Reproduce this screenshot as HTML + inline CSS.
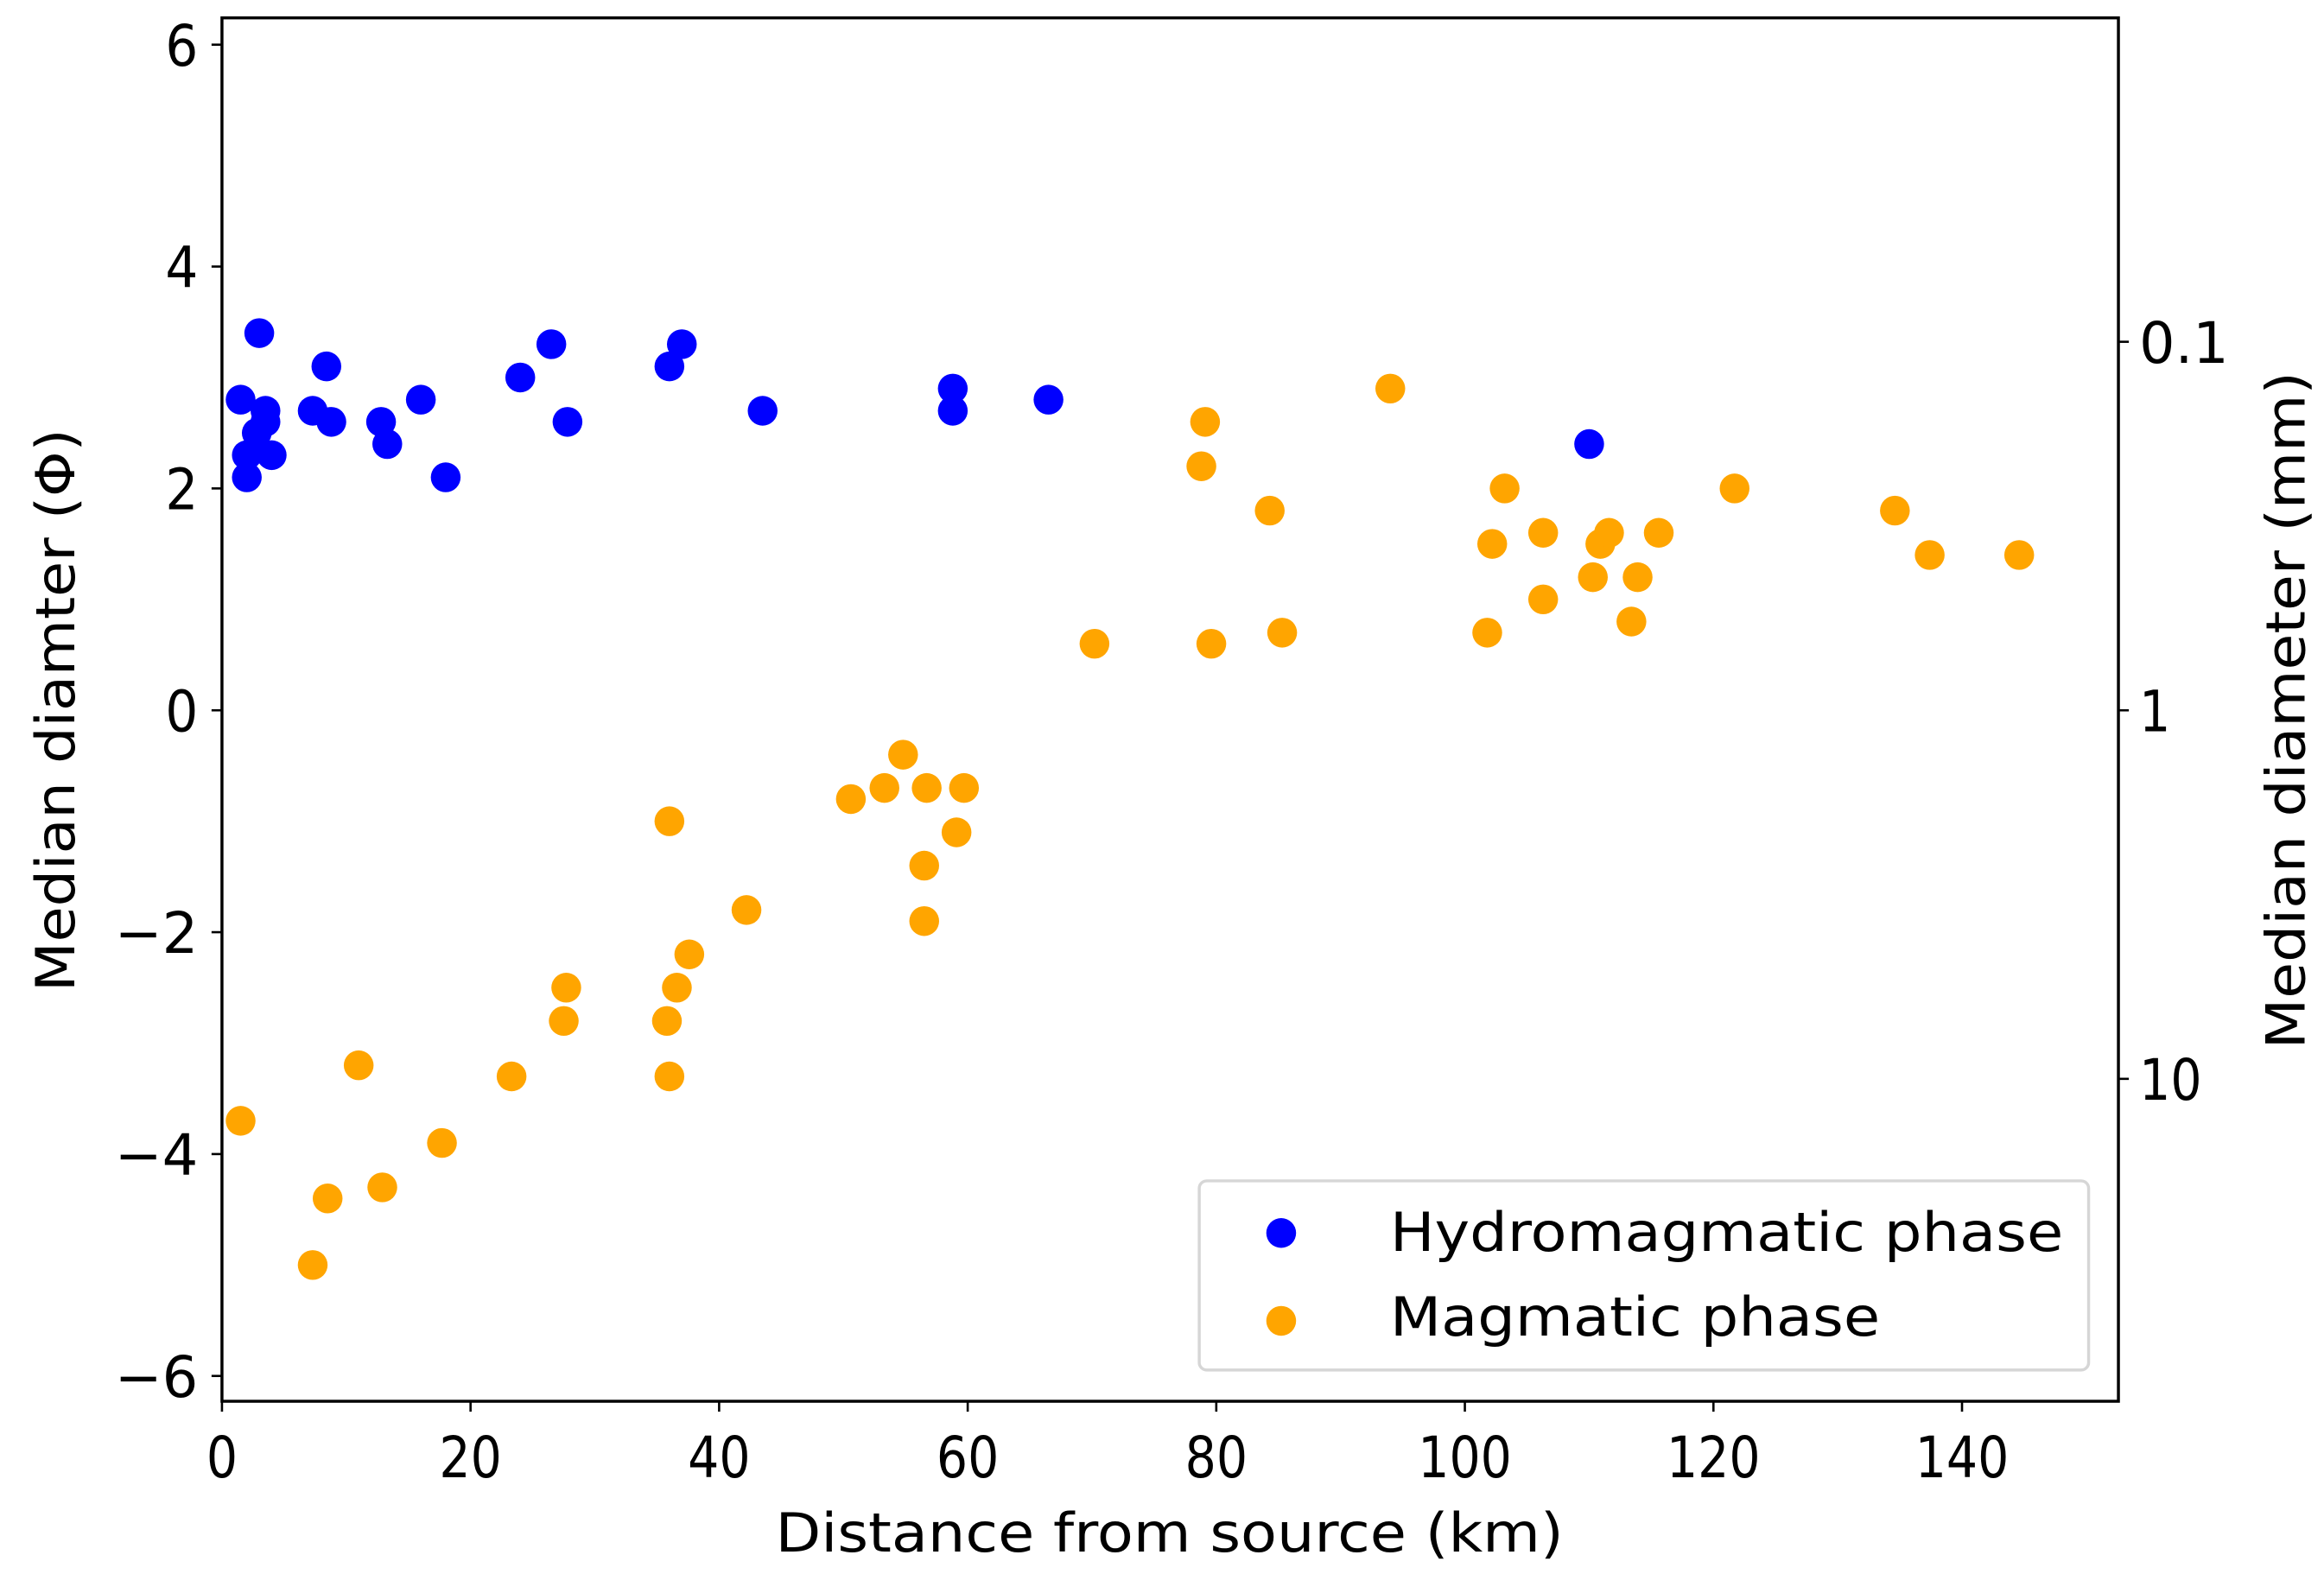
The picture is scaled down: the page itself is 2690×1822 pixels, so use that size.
<!DOCTYPE html>
<html><head><meta charset="utf-8"><style>
html,body{margin:0;padding:0;background:#fff;}
svg{display:block;}
text{font-family:"DejaVu Sans","Liberation Sans",sans-serif;fill:#000;}
</style></head><body>
<svg id="chart" width="2690" height="1822" viewBox="0 0 1560 1057" preserveAspectRatio="none" xmlns="http://www.w3.org/2000/svg">
<rect x="0" y="0" width="1560" height="1057" fill="#fff"/>
<g id="marks"></g>
<rect x="149" y="12" width="1273" height="929" fill="none" stroke="#000" stroke-width="2"/>
<g id="axes"></g>
<text x="785" y="1042" font-size="36" text-anchor="middle" textLength="529" lengthAdjust="spacingAndGlyphs">Distance from source (km)</text>
<text transform="translate(50,477) rotate(-90)" font-size="36" text-anchor="middle" textLength="378" lengthAdjust="spacingAndGlyphs">Median diamter (Φ)</text>
<text transform="translate(1547,477) rotate(-90)" font-size="36" text-anchor="middle" textLength="455" lengthAdjust="spacingAndGlyphs">Median diameter (mm)</text>
<g>
<rect x="805" y="793" width="597" height="127" rx="5" fill="#fff" stroke="#d6d6d6" stroke-width="2"/>
<circle cx="860" cy="828" r="10" fill="#0000ff"/>
<text x="933" y="840" font-size="36" textLength="452" lengthAdjust="spacingAndGlyphs">Hydromagmatic phase</text>
<circle cx="860" cy="887" r="10" fill="#ffa500"/>
<text x="933" y="897" font-size="36" textLength="329" lengthAdjust="spacingAndGlyphs">Magmatic phase</text>
</g>
</svg>
<script>
const hydroX = [1.5,2,2,2.8,3,3.5,3.5,4,7.3,8.4,8.8,12.8,13.3,16,18,24,26.5,27.8,36,37,43.5,58.8,58.8,66.5,110];
const hydroY = [2.8,2.1,2.3,2.5,3.4,2.7,2.6,2.3,2.7,3.1,2.6,2.6,2.4,2.8,2.1,3.0,3.3,2.6,3.1,3.3,2.7,2.9,2.7,2.8,2.4];
const magX = [1.5,7.3,8.5,11,12.9,17.7,23.3,27.5,27.7,35.8,36,36,36.6,37.6,42.2,50.6,53.3,54.8,56.5,56.5,56.7,59.1,59.7,70.2,78.8,79.1,79.6,84.3,85.3,94.0,101.8,102.2,103.2,106.3,106.3,110.3,110.9,111.6,113.4,113.9,115.6,121.7,134.6,137.4,144.6];
const magY = [-3.7,-5,-4.4,-3.2,-4.3,-3.9,-3.3,-2.8,-2.5,-2.8,-3.3,-1.0,-2.5,-2.2,-1.8,-0.8,-0.7,-0.4,-1.4,-1.9,-0.7,-1.1,-0.7,0.6,2.2,2.6,0.6,1.8,0.7,2.9,0.7,1.5,2.0,1.0,1.6,1.2,1.5,1.6,0.8,1.2,1.6,2.0,1.8,1.4,1.4];
const xTicks = [0,20,40,60,80,100,120,140];
const yTicks = [-6,-4,-2,0,2,4,6];
const mmTicks = [0.1,1,10];
const mmLabels = ["0.1","1","10"];

const X0=149, PXU=8.343, Y0=477, PYU=74.5;
function sx(v){return X0+v*PXU;}
function sy(v){return Y0-v*PYU;}
function mmToPhi(mm){return -Math.log2(mm);}
const NS="http://www.w3.org/2000/svg";
const marks=document.getElementById('marks');
const axes=document.getElementById('axes');

for(let i=0;i<hydroX.length;i++){
  const c=document.createElementNS(NS,'circle');
  c.setAttribute('cx',sx(hydroX[i]));c.setAttribute('cy',sy(hydroY[i]));c.setAttribute('r',10);c.setAttribute('fill','#0000ff');
  
  
  marks.appendChild(c);
}
for(let i=0;i<magX.length;i++){
  const c=document.createElementNS(NS,'circle');
  c.setAttribute('cx',sx(magX[i]));c.setAttribute('cy',sy(magY[i]));c.setAttribute('r',10);c.setAttribute('fill','#ffa500');
  
  
  marks.appendChild(c);
}
function line(x1,y1,x2,y2){
  const l=document.createElementNS(NS,'line');
  l.setAttribute('x1',x1);l.setAttribute('y1',y1);l.setAttribute('x2',x2);l.setAttribute('y2',y2);
  l.setAttribute('stroke','#000');l.setAttribute('stroke-width','1.5');
  
  
  axes.appendChild(l);
}
function label(x,y,s,anchor,len){
  const t=document.createElementNS(NS,'text');
  t.setAttribute('x',x);t.setAttribute('y',y);t.setAttribute('font-size','38');t.setAttribute('text-anchor',anchor);
  t.setAttribute('textLength',len);t.setAttribute('lengthAdjust','spacingAndGlyphs');
  t.textContent=s;
  
  
  axes.appendChild(t);
}
xTicks.forEach(v=>{
  const x=sx(v); line(x,941,x,948);
  const s=String(v); label(x,992,s,'middle',s.length*21);
});
yTicks.forEach(v=>{
  const y=sy(v); line(142,y,149,y);
  const s=v<0?'\u2212'+Math.abs(v):String(v);
  label(133,y+14,s,'end',v<0?56:22);
});
mmTicks.forEach((v,i)=>{
  const y=sy(mmToPhi(v)); line(1422,y,1429,y);
  const s=mmLabels[i]; label(1436,y+14,s,'start',s==="0.1"?60:s.length*21);
});
</script>
</body></html>
